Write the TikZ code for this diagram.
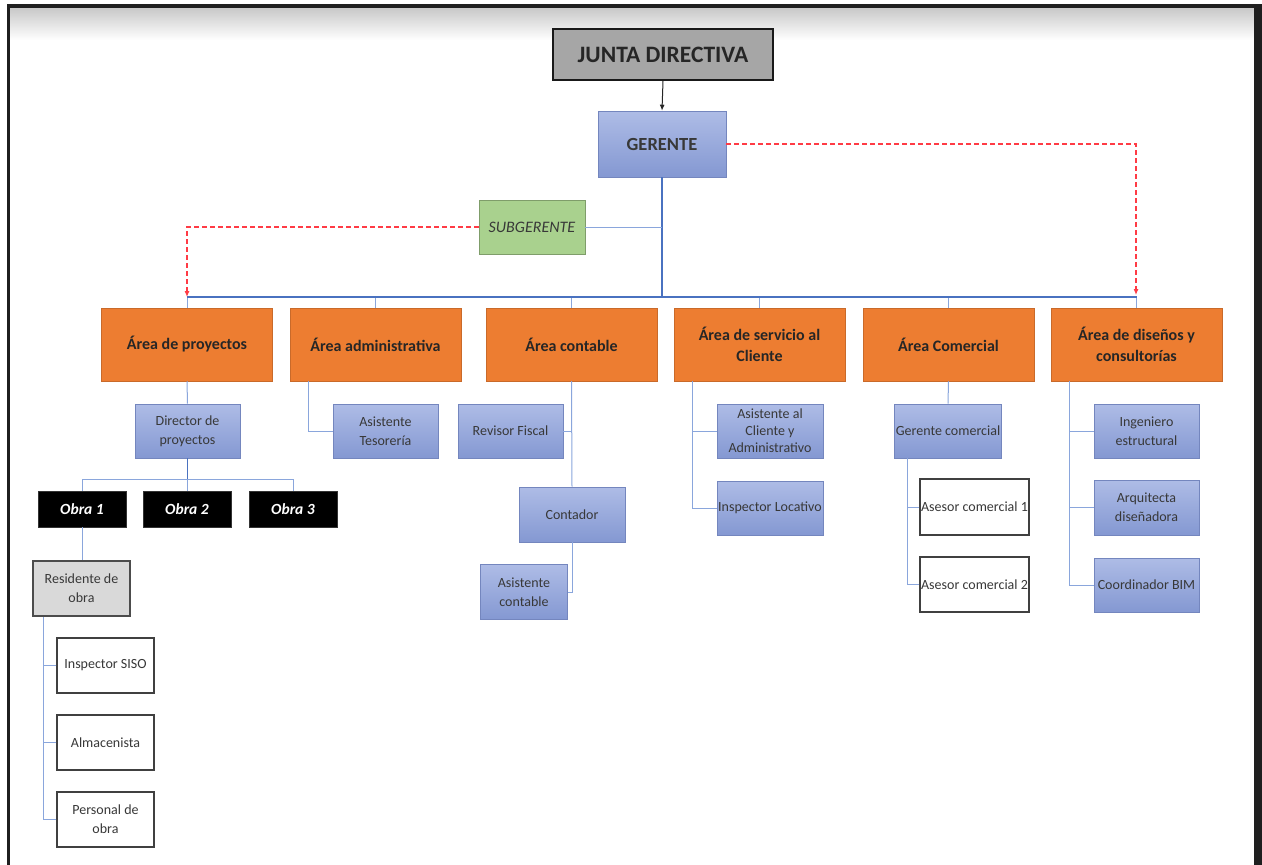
\documentclass[tikz,border=0pt]{standalone}
\usepackage{fontspec}
\setmainfont{Carlito}
\usetikzlibrary{arrows.meta}
\definecolor{orgbox}{HTML}{ED7D31}
\definecolor{grnbox}{HTML}{A9D18E}
\definecolor{jdgray}{HTML}{A6A6A6}
\definecolor{resgray}{HTML}{D9D9D9}
\definecolor{bluetop}{HTML}{AEBCE6}
\definecolor{bluebot}{HTML}{8498D2}
\definecolor{blueedge}{HTML}{7486BE}
\definecolor{lineblue}{HTML}{8AA6DC}
\definecolor{trunkblue}{HTML}{4A72C0}
\definecolor{txtgray}{HTML}{383838}
\definecolor{redline}{HTML}{FF3B45}
\tikzset{
  bluebox/.style={rectangle, top color=bluetop, bottom color=bluebot, draw=blueedge, line width=0.6pt,
    align=center, text=txtgray, font=\fontsize{14}{19}\selectfont, inner sep=1pt},
  areabox/.style={rectangle, fill=orgbox, draw=orgbox!85!black, line width=0.5pt, align=center,
    font=\fontsize{16}{21}\bfseries\selectfont, text=black!85, minimum width=171, minimum height=73, inner sep=1pt},
  whitebox/.style={rectangle, fill=white, draw=black!75, line width=1.3pt, align=center,
    text=txtgray, font=\fontsize{14}{19}\selectfont, inner sep=1pt},
  obrabox/.style={rectangle, fill=black, draw=black!80, align=center, text=white,
    font=\fontsize{15.5}{17}\bfseries\itshape\selectfont, minimum width=88, minimum height=36, inner sep=1pt},
  bline/.style={draw=lineblue, line width=1pt},
  tline/.style={draw=trunkblue, line width=1.3pt},
  rdash/.style={draw=redline, line width=1.1pt, dash pattern=on 5pt off 3pt, -{Latex[length=6pt,width=5pt]}},
}
\begin{document}
\begin{tikzpicture}[x=1pt,y=-1pt]
\useasboundingbox (0,0) rectangle (1262,865);
\fill[white] (0,0) rectangle (1262,865);
% frame
\shade[top color=black!22, bottom color=white] (10,7) rectangle (1254,40);
\fill[black!88] (7,4) rectangle (1262,7.5);
\fill[black!88] (7,4) rectangle (10,865);
\fill[black!88] (1254,4) rectangle (1262,865);

% top nodes
\node[rectangle, fill=jdgray, draw=black!90, line width=2pt, minimum width=220, minimum height=51,
  font=\fontsize{23.5}{25}\bfseries\selectfont, text=black!85, inner sep=1pt] (jd) at (663,54.5) {JUNTA DIRECTIVA};
\node[bluebox, minimum width=128, minimum height=66, font=\fontsize{18.5}{20}\bfseries\selectfont] (ger) at (662,144) {GERENTE};
\node[rectangle, fill=grnbox, draw=grnbox!75!black, line width=0.5pt, minimum width=106, minimum height=54,
  font=\fontsize{16}{18}\itshape\selectfont, text=txtgray, inner sep=1pt] (sub) at (532,227) {SUBGERENTE};

% areas
\node[areabox] (a1) at (187,344.5) {Área de proyectos};
\node[areabox] (a2) at (375.5,344.5) {Área administrativa};
\node[areabox] (a3) at (571.5,344.5) {Área contable};
\node[areabox] (a4) at (759.5,344.5) {Área de servicio al\\Cliente};
\node[areabox] (a5) at (948.5,344.5) {Área Comercial};
\node[areabox] (a6) at (1136.5,344.5) {Área de diseños y\\consultorías};

% proyectos
\node[bluebox, minimum width=105, minimum height=54] (dir) at (187.5,431) {Director de\\proyectos};
\node[obrabox] (o1) at (82,509) {Obra 1};
\node[obrabox] (o2) at (187,509) {Obra 2};
\node[obrabox] (o3) at (293,509) {Obra 3};
\node[rectangle, fill=resgray, draw=black!70, line width=1.3pt, minimum width=97, minimum height=55, align=center,
  text=txtgray, font=\fontsize{14}{19}\selectfont, inner sep=1pt] (res) at (81.5,588.5) {Residente de\\obra};
\node[whitebox, minimum width=97, minimum height=55] (siso) at (105.5,665.5) {Inspector SISO};
\node[whitebox, minimum width=97, minimum height=55] (alm) at (105.5,742.5) {Almacenista};
\node[whitebox, minimum width=97, minimum height=55] (pers) at (105.5,819.5) {Personal de\\obra};

% administrativa
\node[bluebox, minimum width=105, minimum height=54] (tes) at (385.5,431) {Asistente\\Tesorería};

% contable
\node[bluebox, minimum width=105, minimum height=54] (rev) at (510.5,431) {Revisor Fiscal};
\node[bluebox, minimum width=106, minimum height=55] (cont) at (572,514.5) {Contador};
\node[bluebox, minimum width=87, minimum height=55] (asc) at (524,592) {Asistente\\contable};

% servicio
\node[bluebox, minimum width=106, minimum height=54, font=\fontsize{14}{17}\selectfont] (acl) at (770,431) {Asistente al\\Cliente y\\Administrativo};
\node[bluebox, minimum width=106, minimum height=54] (insp) at (770,508) {Inspector Locativo};

% comercial
\node[bluebox, minimum width=106, minimum height=54] (gcom) at (948,431) {Gerente comercial};
\node[whitebox, minimum width=107, minimum height=56] (as1) at (974.5,507) {Asesor comercial 1};
\node[whitebox, minimum width=107, minimum height=55] (as2) at (974.5,584.5) {Asesor comercial 2};

% disenos
\node[bluebox, minimum width=105, minimum height=54] (ing) at (1146.5,431) {Ingeniero\\estructural};
\node[bluebox, minimum width=105, minimum height=55] (arq) at (1146.5,507.5) {Arquitecta\\diseñadora};
\node[bluebox, minimum width=105, minimum height=54] (coord) at (1146.5,585) {Coordinador BIM};

% helper coordinates
\coordinate (hub) at (662,297);
\coordinate (dirhub) at (187.5,479);
\coordinate (rx) at (43,0);
\coordinate (ax2) at (308,0);
\coordinate (sx) at (692,0);
\coordinate (cx) at (907,0);
\coordinate (dx) at (1069,0);
\coordinate (t1) at (187,297);
\coordinate (t6) at (1136,295);

% connectors
\draw[black!85, line width=1pt, -{Latex[length=6pt,width=5pt]}] (jd.south) -- (ger.north);
\foreach \a in {a1,a2,a3,a4,a5,a6} \draw[bline] (\a.north) |- (hub);
\draw[tline] (a1.north |- hub) -- (a6.north |- hub);
\draw[tline] (ger.south) -- (hub);
\draw[bline] (sub.east) -- (sub.east -| ger.south);
\draw[rdash] (sub.west) -| (t1);
\draw[rdash] (ger.east) -| (t6);

\draw[bline] (a1.south) -- (dir.north);
\draw[tline, line width=1pt] (dir.south) -- (dirhub);
\foreach \o in {o1,o2,o3} \draw[bline] (\o.north) |- (dirhub);
\draw[bline] (o1.south) -- (res.north -| o1.south);
\foreach \w in {siso,alm,pers} \draw[bline] (\w.west) -| (res.south -| rx);

\draw[bline] (tes.west) -| (a2.south -| ax2);

\draw[bline] (a3.south) -- (cont.north);
\draw[bline] (rev.east) -| (a3.south);
\draw[bline] (asc.east) -| (cont.south);

\foreach \w in {acl,insp} \draw[bline] (\w.west) -| (a4.south -| sx);

\draw[bline] (a5.south) -- (gcom.north);
\foreach \w in {as1,as2} \draw[bline] (\w.west) -| (gcom.south -| cx);

\foreach \w in {ing,arq,coord} \draw[bline] (\w.west) -| (a6.south -| dx);
\end{tikzpicture}
\end{document}
